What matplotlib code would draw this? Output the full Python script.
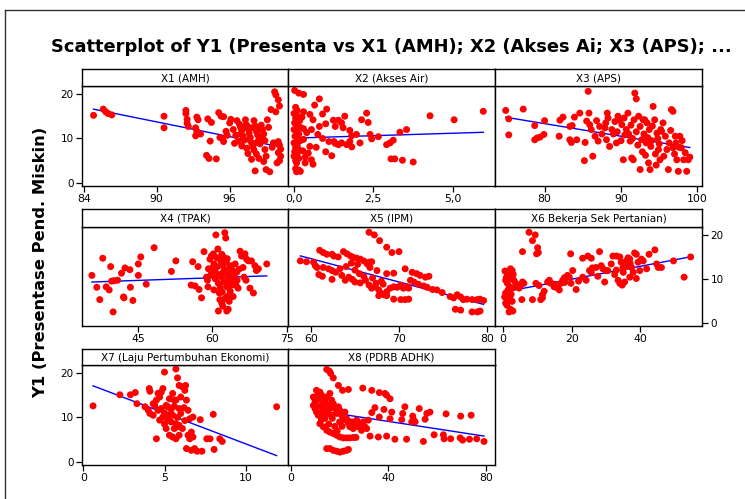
import numpy as np
import matplotlib.pyplot as plt
from matplotlib.lines import Line2D

# Y1 (Presentase Pend. Miskin) against each predictor
amh_pts = [(84.8, 15.2), (85.6, 16.6), (85.8, 16.0), (86.0, 15.6), (86.3, 15.3), (90.6, 15.0), (90.6, 12.4),
           (92.4, 16.3), (92.4, 15.6), (92.5, 14.3), (92.5, 13.4), (92.6, 12.7), (93.3, 14.8), (93.4, 14.2),
           (93.2, 12.4), (93.3, 11.6), (93.2, 10.6), (93.6, 11.0), (94.2, 14.4), (94.5, 13.6), (94.4, 9.4),
           (94.1, 6.2), (94.3, 5.5), (94.9, 5.4), (95.1, 15.8), (95.3, 15.0), (95.5, 14.9), (95.7, 11.6),
           (95.8, 10.7), (95.2, 10.2), (95.5, 9.3), (95.4, 10.0), (96.1, 14.3), (96.3, 12.0), (96.5, 10.7),
           (96.6, 14.0), (96.8, 13.2), (96.9, 12.5), (97.0, 11.8), (97.1, 10.5), (97.2, 9.6), (97.3, 14.2),
           (97.4, 13.0), (97.5, 12.2), (97.6, 11.2), (97.7, 10.2), (97.8, 9.0), (97.9, 8.2), (97.4, 7.8),
           (97.5, 6.6), (98.0, 14.0), (98.1, 12.8), (98.2, 11.6), (98.3, 10.8), (98.4, 9.8), (98.5, 8.8),
           (98.0, 7.4), (98.2, 6.5), (98.4, 5.5), (97.8, 5.3), (98.6, 13.0), (98.7, 12.0), (98.8, 11.0),
           (98.9, 9.5), (98.9, 7.5), (99.0, 6.0), (98.8, 4.8), (99.1, 14.2), (99.2, 12.5), (99.0, 3.0),
           (98.1, 2.7), (99.3, 2.5), (99.4, 16.5), (99.7, 20.5), (99.8, 19.8), (100.0, 18.7), (100.1, 17.3),
           (99.8, 16.0), (100.0, 9.3), (100.1, 8.5), (100.2, 7.6), (100.0, 6.8), (100.2, 6.0), (100.1, 5.0),
           (99.9, 4.5), (99.6, 9.0), (99.5, 8.0), (96.0, 13.5), (96.4, 8.9), (97.0, 8.3), (96.7, 9.4),
           (97.2, 12.8), (97.8, 12.4), (98.4, 12.2), (97.6, 9.8), (98.2, 9.0), (98.7, 10.2), (96.9, 11.0)]

air_pts = [(0.02, 20.8), (0.15, 20.2), (0.3, 19.9), (0.05, 17.0), (0.1, 16.3), (0.0, 15.6), (0.12, 15.0),
           (0.05, 14.5), (0.18, 14.0), (0.02, 13.5), (0.1, 13.0), (0.2, 12.5), (0.0, 12.0), (0.08, 11.5),
           (0.15, 11.0), (0.03, 10.5), (0.12, 10.0), (0.2, 9.5), (0.0, 9.0), (0.1, 8.5), (0.05, 8.0),
           (0.15, 7.5), (0.02, 7.0), (0.1, 6.5), (0.0, 6.0), (0.15, 5.5), (0.05, 5.0), (0.08, 4.5),
           (0.05, 3.2), (0.15, 2.9), (0.08, 2.5), (0.2, 2.6), (0.25, 14.8), (0.3, 12.2), (0.3, 9.8),
           (0.28, 7.2), (0.35, 5.8), (0.3, 16.0), (0.8, 18.9), (1.03, 16.6), (0.5, 15.4), (0.6, 14.2),
           (0.8, 12.7), (0.55, 12.0), (0.75, 10.9), (0.5, 8.2), (0.45, 6.7), (0.55, 5.2), (0.9, 10.0),
           (1.1, 9.3), (1.3, 8.9), (1.4, 8.6), (1.24, 14.1), (1.4, 14.1), (1.5, 13.5), (1.3, 12.7),
           (1.55, 12.4), (1.76, 11.8), (1.19, 6.1), (1.26, 9.3), (1.5, 9.0), (1.66, 8.6), (1.82, 8.1),
           (1.76, 9.3), (2.08, 9.0), (1.82, 10.6), (1.97, 10.9), (2.13, 14.2), (2.29, 15.7), (2.34, 13.6),
           (2.4, 10.9), (2.45, 9.9), (2.66, 10.4), (2.92, 8.6), (3.03, 9.0), (3.13, 9.6), (3.06, 5.4),
           (3.18, 5.4), (3.42, 5.1), (3.76, 4.7), (3.34, 11.4), (3.55, 12.0), (4.29, 15.1), (5.05, 14.2),
           (5.97, 16.1), (0.65, 17.5), (0.9, 15.5), (1.6, 15.0), (1.0, 13.3), (0.4, 11.3), (0.7, 8.0),
           (1.0, 7.0), (0.35, 4.5), (0.6, 4.2)]

aps_pts = [(74.9, 16.3), (75.3, 14.4), (75.3, 10.8), (77.2, 16.6), (78.7, 12.9), (78.7, 9.7), (79.0, 10.1),
           (79.4, 10.3), (79.9, 10.9), (80.0, 14.0), (81.9, 10.5), (82.0, 14.1), (82.4, 14.8), (83.3, 12.7),
           (83.6, 12.9), (83.3, 9.7), (83.5, 9.1), (84.2, 9.7), (83.9, 14.8), (84.6, 15.7), (85.3, 9.1),
           (85.2, 5.0), (85.7, 20.6), (85.5, 13.9), (85.9, 13.1), (85.8, 15.7), (86.1, 12.0), (86.6, 10.5),
           (87.0, 9.4), (86.3, 6.0), (87.2, 12.7), (87.9, 12.4), (88.2, 15.7), (88.3, 14.6), (88.1, 9.7),
           (88.5, 8.2), (88.8, 12.0), (89.4, 9.0), (89.6, 15.0), (89.8, 14.2), (90.1, 13.1), (90.3, 5.2),
           (90.7, 12.0), (90.9, 15.7), (91.2, 9.4), (91.4, 5.6), (91.6, 5.2), (91.8, 20.2), (92.0, 18.9),
           (91.7, 14.2), (92.3, 15.0), (92.5, 12.7), (92.7, 9.7), (92.9, 14.2), (93.1, 14.2), (92.5, 3.0),
           (93.3, 9.0), (93.7, 12.0), (93.8, 3.0), (94.2, 17.2), (94.4, 14.2), (94.7, 11.2), (94.9, 7.5),
           (95.1, 5.2), (95.3, 11.6), (95.5, 13.5), (95.8, 10.5), (96.0, 7.5), (96.2, 3.0), (96.6, 16.5),
           (96.8, 16.1), (96.8, 7.9), (97.1, 10.5), (97.2, 9.0), (97.3, 5.2), (97.5, 2.6), (97.7, 10.5),
           (97.9, 7.9), (98.2, 5.2), (98.6, 2.6), (98.8, 5.2), (99.0, 5.8), (89.0, 11.0), (89.5, 11.5),
           (90.5, 10.8), (91.0, 11.0), (91.5, 10.0), (92.0, 11.5), (92.2, 8.5), (92.8, 7.0), (93.0, 11.0),
           (93.5, 10.2), (93.2, 6.2), (93.9, 8.2), (94.0, 9.5), (94.5, 6.5), (94.8, 10.0), (95.0, 8.8),
           (95.6, 6.0), (96.3, 9.0), (96.5, 11.8), (97.0, 6.5), (97.6, 8.0), (98.0, 9.5), (98.4, 6.8),
           (90.0, 9.5), (91.3, 13.0), (93.4, 13.5), (94.1, 12.8), (95.2, 12.0), (88.0, 13.5), (87.5, 11.0),
           (86.8, 14.0), (89.2, 13.8), (90.4, 14.6), (93.6, 4.5), (94.6, 4.0)]

tpak_pts = [(35.6, 10.8), (36.6, 8.1), (37.2, 5.3), (37.8, 14.7), (38.5, 8.2), (39.1, 7.5), (39.4, 12.8),
            (39.9, 2.5), (39.6, 9.5), (40.1, 9.6), (40.8, 9.7), (41.6, 11.3), (42.0, 5.9), (42.1, 5.7),
            (42.3, 12.5), (43.3, 12.1), (43.4, 8.1), (43.9, 5.1), (45.0, 13.4), (45.0, 10.8), (45.5, 15.0),
            (46.6, 8.8), (48.2, 17.1), (51.7, 11.7), (52.6, 14.1), (55.7, 8.6), (56.5, 8.4), (56.0, 13.9),
            (57.1, 12.8), (57.3, 7.6), (57.8, 5.7), (58.3, 16.2), (58.8, 10.4), (59.0, 9.7), (59.1, 8.2),
            (59.2, 12.3), (59.5, 14.5), (59.8, 15.2), (60.2, 15.7), (60.3, 13.4), (60.5, 11.9), (60.7, 20.0),
            (60.8, 10.4), (61.2, 9.0), (61.4, 6.8), (61.5, 5.3), (61.7, 14.1), (61.9, 15.6), (62.1, 13.0),
            (62.2, 11.5), (62.3, 9.3), (62.5, 20.5), (62.7, 19.3), (62.9, 8.2), (63.0, 6.0), (63.2, 3.1),
            (62.9, 2.7), (63.4, 4.9), (63.5, 12.6), (63.7, 10.1), (63.9, 8.6), (64.1, 11.9), (64.2, 6.0),
            (64.6, 13.4), (64.9, 11.5), (65.0, 9.7), (65.2, 7.9), (65.6, 16.3), (65.9, 15.2), (66.2, 12.6),
            (66.4, 10.4), (66.6, 15.7), (66.8, 9.7), (66.9, 14.5), (67.3, 14.1), (67.6, 7.9), (67.9, 14.1),
            (68.3, 6.8), (68.6, 13.0), (68.9, 11.9), (69.3, 12.3), (71.0, 13.4), (61.2, 2.7), (62.1, 3.8),
            (60.3, 7.5), (60.0, 12.5), (60.6, 10.0), (61.0, 12.8), (61.3, 11.0), (61.6, 8.0), (61.8, 10.5),
            (62.0, 7.0), (62.4, 12.0), (62.6, 10.8), (62.8, 13.8), (63.1, 9.5), (63.3, 11.2), (63.6, 7.2),
            (63.8, 13.0), (64.0, 9.0), (64.4, 10.5), (64.8, 8.5), (65.4, 12.2), (59.7, 11.0), (60.9, 14.8),
            (61.1, 16.8), (62.2, 15.0), (63.0, 14.6), (62.5, 5.5), (61.9, 4.5)]

ipm_pts = [(58.8, 14.1), (59.5, 13.9), (60.3, 13.8), (60.5, 13.0), (60.7, 12.6), (60.9, 11.0), (61.3, 10.6),
           (61.0, 16.5), (61.4, 16.0), (61.8, 15.6), (62.4, 15.6), (62.6, 15.2), (61.4, 12.6), (62.0, 12.3),
           (62.4, 11.9), (62.8, 11.5), (62.4, 9.9), (63.1, 15.0), (63.7, 16.2), (64.1, 15.7), (64.5, 15.2),
           (64.8, 14.9), (65.2, 14.7), (65.6, 14.5), (66.0, 14.1), (66.4, 13.4), (66.7, 12.6), (66.6, 13.8),
           (63.3, 12.3), (63.5, 10.8), (63.9, 9.7), (64.3, 10.4), (64.7, 9.9), (65.0, 9.3), (65.6, 9.1),
           (66.2, 9.7), (66.6, 8.6), (66.9, 7.9), (67.3, 8.2), (67.7, 7.5), (67.9, 6.8), (68.3, 6.4),
           (68.6, 7.1), (69.0, 7.9), (69.4, 8.2), (69.8, 8.1), (70.2, 8.6), (70.5, 7.9), (70.9, 8.2),
           (71.1, 7.9), (66.6, 20.6), (67.2, 20.0), (67.8, 18.7), (68.6, 17.2), (69.2, 16.0), (70.0, 16.2),
           (66.9, 13.9), (67.5, 11.9), (68.6, 11.2), (69.4, 11.3), (67.7, 6.2), (68.6, 6.2), (69.4, 5.4),
           (70.2, 5.3), (70.7, 5.3), (71.1, 5.4), (70.7, 12.3), (71.5, 11.5), (72.0, 11.2), (72.4, 10.8),
           (73.0, 10.4), (73.4, 10.6), (71.3, 9.7), (71.7, 9.3), (72.2, 8.8), (72.8, 8.4), (73.2, 8.1),
           (73.8, 7.6), (74.3, 7.5), (74.9, 6.9), (75.8, 6.0), (76.2, 5.7), (76.6, 6.4), (77.0, 5.9),
           (77.3, 5.3), (77.7, 5.4), (78.3, 5.3), (78.9, 5.3), (79.2, 5.4), (79.6, 5.1), (76.4, 3.1),
           (77.0, 2.9), (78.3, 2.5), (78.9, 2.5), (79.2, 2.7), (64.0, 12.8), (65.0, 12.0), (65.5, 11.2),
           (66.0, 10.6), (67.0, 10.2), (68.0, 9.5), (68.2, 8.8), (65.3, 13.3), (64.6, 13.6), (67.4, 9.0)]

tani_pts = [(0.6, 11.8), (1.3, 11.2), (1.8, 10.8), (2.2, 12.3), (2.7, 11.9), (0.8, 9.7), (1.3, 9.0),
            (2.0, 8.2), (2.7, 7.9), (0.8, 6.8), (1.3, 6.0), (1.8, 5.7), (2.2, 5.3), (2.7, 4.9), (0.8, 4.5),
            (1.6, 5.3), (2.2, 3.1), (2.9, 2.7), (1.8, 2.5), (3.2, 9.7), (3.7, 9.0), (4.2, 8.2), (4.7, 7.9),
            (5.2, 8.6), (5.7, 9.3), (6.1, 9.0), (1.0, 10.3), (1.5, 7.5), (2.4, 6.5), (0.5, 5.9), (2.0, 10.0),
            (3.0, 11.0), (1.2, 4.0), (5.5, 5.3), (5.7, 16.2), (7.6, 20.6), (8.6, 18.7), (9.4, 20.0),
            (10.1, 17.1), (10.3, 16.0), (9.8, 15.7), (8.6, 5.3), (9.6, 9.0), (10.5, 8.5), (11.0, 5.3),
            (11.5, 5.7), (11.5, 6.4), (12.0, 7.2), (13.0, 9.3), (13.5, 9.7), (14.0, 9.0), (14.9, 8.2),
            (15.9, 7.9), (16.4, 7.5), (16.9, 9.0), (17.4, 9.7), (17.9, 10.3), (18.8, 10.8), (19.3, 10.4),
            (19.8, 9.0), (20.3, 11.9), (21.3, 7.6), (19.7, 15.7), (23.2, 14.7), (24.7, 15.2), (25.7, 14.7),
            (28.1, 16.2), (23.2, 10.4), (24.2, 9.7), (25.2, 11.9), (25.7, 11.5), (27.1, 12.6), (27.6, 10.6),
            (28.6, 13.0), (29.1, 12.3), (29.6, 9.3), (30.0, 11.9), (30.5, 11.9), (31.5, 13.4), (32.0, 15.2),
            (33.0, 15.2), (34.0, 15.0), (34.4, 13.8), (34.9, 12.6), (33.5, 9.7), (34.0, 9.0), (34.7, 8.6),
            (35.4, 9.3), (35.9, 14.1), (36.4, 14.8), (36.9, 14.5), (37.4, 12.6), (37.9, 11.5), (38.3, 15.9),
            (38.8, 15.6), (39.3, 13.8), (39.8, 11.9), (40.3, 14.5), (40.8, 14.1), (41.8, 12.3), (42.5, 15.6),
            (44.2, 16.6), (44.7, 13.4), (45.2, 12.6), (46.1, 12.6), (49.6, 14.1), (52.7, 10.4), (54.6, 15.0),
            (36.9, 10.4), (38.8, 10.1), (33.0, 12.0), (35.0, 11.5), (36.0, 12.8), (32.5, 11.0), (37.0, 13.5),
            (22.0, 9.5), (26.0, 12.5), (15.0, 8.8), (18.0, 9.2)]

lpe_pts = [(0.6, 12.6), (2.25, 15.1), (2.9, 15.1), (3.2, 15.6), (3.3, 13.1), (4.06, 16.5), (4.1, 15.9),
           (3.8, 12.4), (4.0, 11.6), (4.1, 10.9), (4.3, 13.1), (4.5, 13.9), (4.6, 15.4), (4.7, 14.6),
           (4.8, 15.7), (4.9, 16.5), (5.0, 20.2), (5.1, 7.5), (4.5, 5.2), (5.2, 12.4), (5.3, 10.5), (5.4, 9.0),
           (5.5, 15.4), (5.6, 13.9), (5.7, 20.9), (5.8, 18.9), (5.9, 17.2), (5.3, 6.0), (5.5, 5.6), (5.7, 5.2),
           (5.9, 6.0), (6.0, 14.6), (6.1, 16.9), (6.25, 16.1), (6.3, 17.2), (6.35, 13.9), (6.45, 11.6),
           (6.55, 9.7), (6.65, 6.7), (6.75, 5.6), (5.6, 7.5), (5.7, 8.6), (5.8, 7.9), (5.9, 12.0), (6.0, 10.9),
           (4.9, 10.1), (4.7, 9.4), (4.6, 11.6), (4.4, 12.7), (4.3, 10.5), (5.1, 12.7), (5.3, 14.2), (5.5, 10.5),
           (6.35, 3.0), (6.65, 2.6), (6.85, 3.0), (7.0, 2.4), (7.3, 2.4), (6.75, 10.1), (7.2, 9.5), (7.6, 5.2),
           (7.8, 5.2), (8.0, 10.7), (8.05, 2.8), (8.4, 5.2), (8.55, 4.6), (11.9, 12.4), (5.7, 13.9), (5.9, 8.2),
           (6.1, 7.5), (6.25, 9.3), (6.45, 6.0), (6.55, 5.2), (5.0, 11.0), (5.2, 9.5), (5.4, 11.8), (5.6, 12.5),
           (4.8, 12.0), (5.8, 10.0), (6.2, 12.2), (5.0, 8.5)]

pdrb_pts = [(14.7, 20.8), (15.8, 20.4), (16.3, 19.9), (17.4, 18.9), (19.5, 17.2), (21.2, 16.1), (23.6, 16.3),
            (29.5, 16.6), (33.2, 16.1), (36.3, 15.6), (38.6, 15.4), (39.3, 15.0), (40.7, 14.2), (9.2, 14.6),
            (9.9, 13.9), (10.5, 16.1), (11.2, 15.4), (11.9, 15.7), (12.6, 15.0), (13.3, 14.2), (14.0, 13.5),
            (14.7, 14.6), (15.3, 12.7), (16.0, 15.4), (16.7, 13.9), (17.4, 13.1), (18.1, 12.0), (18.8, 10.9),
            (19.5, 12.4), (20.1, 11.6), (20.8, 10.5), (21.5, 9.4), (22.2, 11.2), (22.9, 9.7), (23.6, 8.6),
            (24.2, 7.9), (24.9, 9.0), (25.6, 7.5), (26.3, 8.2), (27.0, 9.4), (27.7, 7.9), (28.4, 8.6),
            (29.0, 7.1), (29.7, 9.0), (30.4, 7.9), (31.1, 7.5), (31.8, 9.4), (11.9, 8.6), (13.3, 7.9),
            (14.7, 7.1), (16.0, 6.7), (17.4, 6.4), (18.8, 6.0), (20.1, 5.6), (21.5, 5.4), (22.9, 5.4),
            (24.2, 5.4), (25.6, 5.5), (26.7, 5.5), (9.2, 12.7), (9.9, 12.0), (10.5, 11.2), (11.2, 10.5),
            (12.6, 10.9), (14.0, 11.2), (14.7, 3.0), (16.0, 3.0), (17.4, 2.6), (18.8, 2.4), (20.1, 2.2),
            (21.5, 2.4), (22.9, 2.6), (23.6, 2.8), (32.5, 5.8), (35.9, 5.6), (39.3, 5.8), (42.7, 5.1),
            (47.5, 5.1), (54.4, 4.6), (58.8, 6.1), (62.6, 6.1), (62.9, 5.2), (65.6, 5.2), (69.5, 5.4),
            (70.5, 4.9), (73.3, 5.1), (76.3, 5.2), (79.3, 4.6), (33.2, 11.1), (34.5, 12.2), (36.3, 10.1),
            (38.2, 11.8), (40.7, 9.7), (41.4, 11.2), (45.5, 9.5), (45.9, 10.9), (46.8, 12.4), (50.0, 10.3),
            (50.3, 9.5), (52.7, 12.0), (55.1, 9.6), (55.8, 10.9), (57.1, 11.2), (63.7, 10.8), (69.7, 10.3),
            (74.0, 10.5), (49.6, 9.0), (51.0, 9.0), (10.0, 13.5), (11.0, 14.0), (12.0, 12.5), (13.0, 13.0),
            (13.5, 12.0), (15.0, 11.0), (16.5, 10.5), (17.0, 9.8), (12.5, 9.5), (15.5, 8.5), (18.0, 8.0),
            (19.0, 7.0), (20.0, 9.0), (21.0, 8.0), (14.0, 9.8), (16.0, 12.0)]

panel_titles = ['X1 (AMH)', 'X2 (Akses Air)', 'X3 (APS)', 'X4 (TPAK)', 'X5 (IPM)',
                'X6 Bekerja Sek Pertanian)', 'X7 (Laju Pertumbuhan Ekonomi)', 'X8 (PDRB ADHK)']
panel_points = [amh_pts, air_pts, aps_pts, tpak_pts, ipm_pts, tani_pts, lpe_pts, pdrb_pts]

# regression line of each panel (slope, intercept)
fit_slope = [-0.552, 0.22, -0.283, 0.0395, -0.53, 0.147, -1.39, -0.084]
fit_intercept = [63.4, 10.07, 35.97, 7.89, 46.4, 7.0, 17.95, 12.47]

x_ticks = [[84, 90, 96], [0, 2.5, 5], [80, 90, 100], [45, 60, 75],
           [60, 70, 80], [0, 20, 40], [0, 5, 10], [0, 40, 80]]
x_ticklabels = [['84', '90', '96'], ['0,0', '2,5', '5,0'], ['80', '90', '100'], ['45', '60', '75'],
                ['60', '70', '80'], ['0', '20', '40'], ['0', '5', '10'], ['0', '40', '80']]
x_limits = [(83.85, 100.8), (-0.19, 6.34), (73.5, 100.6), (33.6, 75.3),
            (57.4, 80.9), (-2.3, 57.9), (-0.08, 12.6), (-1.2, 83.8)]
y_ticks = [0, 10, 20]

W, H = 745, 499
fig = plt.figure(figsize=(W / 100, H / 100), dpi=100)


def px_axes(x0, y0, x1, y1):
    return fig.add_axes([x0 / W, 1 - y1 / H, (x1 - x0) / W, (y1 - y0) / H])


cols = [(82, 288), (288, 495), (495, 702)]
rows = [(69, 86, 186), (209, 227, 326), (349, 365, 465)]

for i, (pts, title) in enumerate(zip(panel_points, panel_titles)):
    r, c = divmod(i, 3)
    x0, x1 = cols[c]
    st, top, bot = rows[r]

    ax = px_axes(x0, top, x1, bot)
    xs = np.array([p[0] for p in pts])
    ys = np.array([p[1] for p in pts])
    lx = np.array([xs.min(), xs.max()])
    ax.plot(lx, fit_slope[i] * lx + fit_intercept[i], color='#0000FF', lw=1.0, zorder=2)
    ax.scatter(xs, ys, s=25, color='#FF0000', edgecolors='none', zorder=3, clip_on=False)
    ax.set_xlim(x_limits[i])
    ax.set_ylim(-0.7, 21.8)
    ax.set_xticks(x_ticks[i])
    ax.set_xticklabels(x_ticklabels[i])
    ax.tick_params(axis='x', direction='out', length=4, width=0.9, pad=1.5, labelsize=7.8)
    if (r in (0, 2) and c == 0) or (r == 1 and c == 2):
        ax.set_yticks(y_ticks)
        ax.tick_params(axis='y', direction='out', length=4, width=0.9, pad=2, labelsize=7.5)
        if c == 2:
            ax.yaxis.tick_right()
    else:
        ax.set_yticks([])
    for sp in ax.spines.values():
        sp.set_linewidth(1.0)

    sax = px_axes(x0, st, x1, top)
    sax.set_xticks([])
    sax.set_yticks([])
    for sp in sax.spines.values():
        sp.set_linewidth(1.0)
    sax.text(0.5, 0.45, title, ha='center', va='center', fontsize=7.5, transform=sax.transAxes)

fig.text(391 / W, 1 - 47 / H, 'Scatterplot of Y1 (Presenta vs X1 (AMH); X2 (Akses Ai; X3 (APS); ...',
         ha='center', va='center', fontsize=12.9, fontweight='bold')
fig.text(41 / W, 1 - 262 / H, 'Y1 (Presentase Pend. Miskin)', rotation=90,
         ha='center', va='center', fontsize=11.8, fontweight='bold')

# outer frame of the graph window
fig.add_artist(Line2D([5 / W, 5 / W], [0, 1 - 10 / H], color='#333333', lw=1.0))
fig.add_artist(Line2D([5 / W, 1], [1 - 10 / H, 1 - 10 / H], color='#333333', lw=1.0))

fig.savefig('out.png', dpi=100)
